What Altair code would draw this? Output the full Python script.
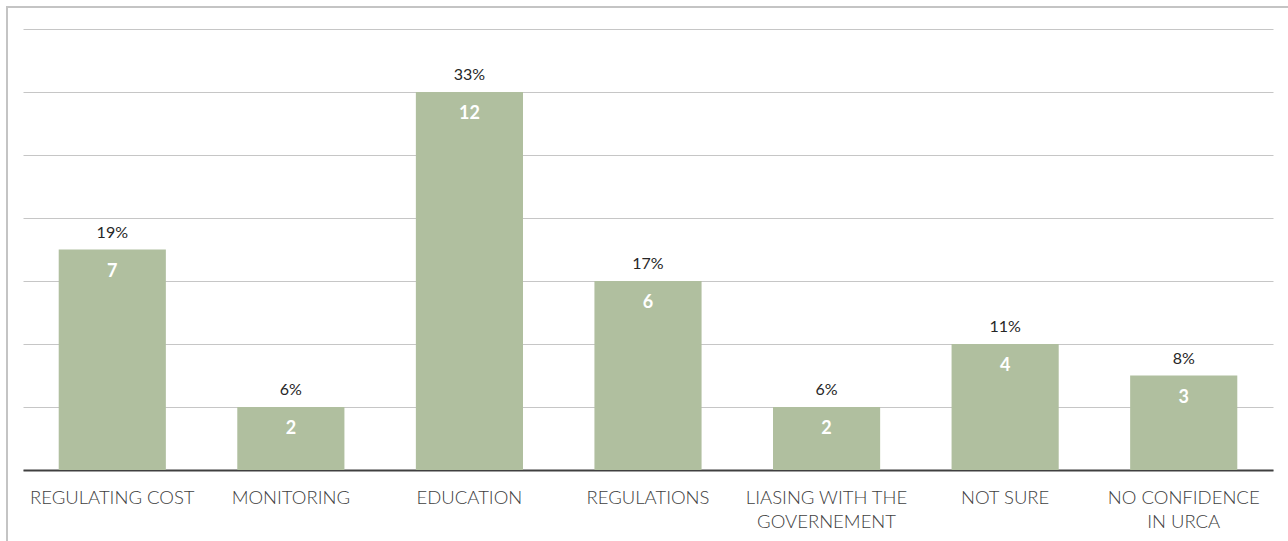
import altair as alt
import pandas as pd

categories = ["REGULATING COST", "MONITORING", "EDUCATION", "REGULATIONS",
              "LIASING WITH THE\nGOVERNEMENT", "NOT SURE", "NO CONFIDENCE\nIN URCA"]
counts = [7, 2, 12, 6, 2, 4, 3]
percents = ["19%", "6%", "33%", "17%", "6%", "11%", "8%"]

df = pd.DataFrame({"cat": categories, "count": counts, "pct": percents})

FONT = "Lato"
BAR = "#b0bf9f"

x = alt.X("cat:N", sort=None, title=None,
          scale=alt.Scale(paddingInner=0.4, paddingOuter=0.2),
          axis=alt.Axis(labelAngle=0, labelExpr="split(datum.value, '\\n')",
                        labelFontSize=18.5, labelColor="#404040", labelFont=FONT,
                        labelFontWeight=300,
                        labelLineHeight=24, labelPadding=18, ticks=False,
                        domainColor="#404040", domainWidth=2, labelLimit=300))
y = alt.Y("count:Q", title=None,
          scale=alt.Scale(domain=[0, 14], nice=False),
          axis=alt.Axis(values=[0, 2, 4, 6, 8, 10, 12, 14], labels=False, ticks=False,
                        domain=False, grid=True, gridColor="#c6c6c6", gridWidth=1))

base = alt.Chart(df)

frame = alt.Chart(pd.DataFrame({"a": [0]})).mark_rect(
    fill=None, stroke="#c4c4c4", strokeWidth=2
).encode(x=alt.value(-16), x2=alt.value(1400), y=alt.value(-22), y2=alt.value(700))

bars = base.mark_bar(color=BAR).encode(x=x, y=y)

inner = base.mark_text(color="white", fontWeight="bold", fontSize=18, font=FONT,
                       baseline="middle", dy=22).encode(x=x, y=y, text="count:Q")
top = base.mark_text(color="#262626", fontSize=16, font=FONT, fontWeight=400,
                     baseline="middle", dy=-17).encode(x=x, y=y, text="pct:N")

chart = alt.layer(frame, bars, inner, top).properties(
    width=1250, height=441,
    padding={"left": 23, "top": 29, "right": 15, "bottom": 71},
    autosize=alt.AutoSizeParams(type="none"),
    background="white",
).configure_view(stroke="transparent")

chart.save("out.html", embed_options={"renderer": "svg", "actions": False})
